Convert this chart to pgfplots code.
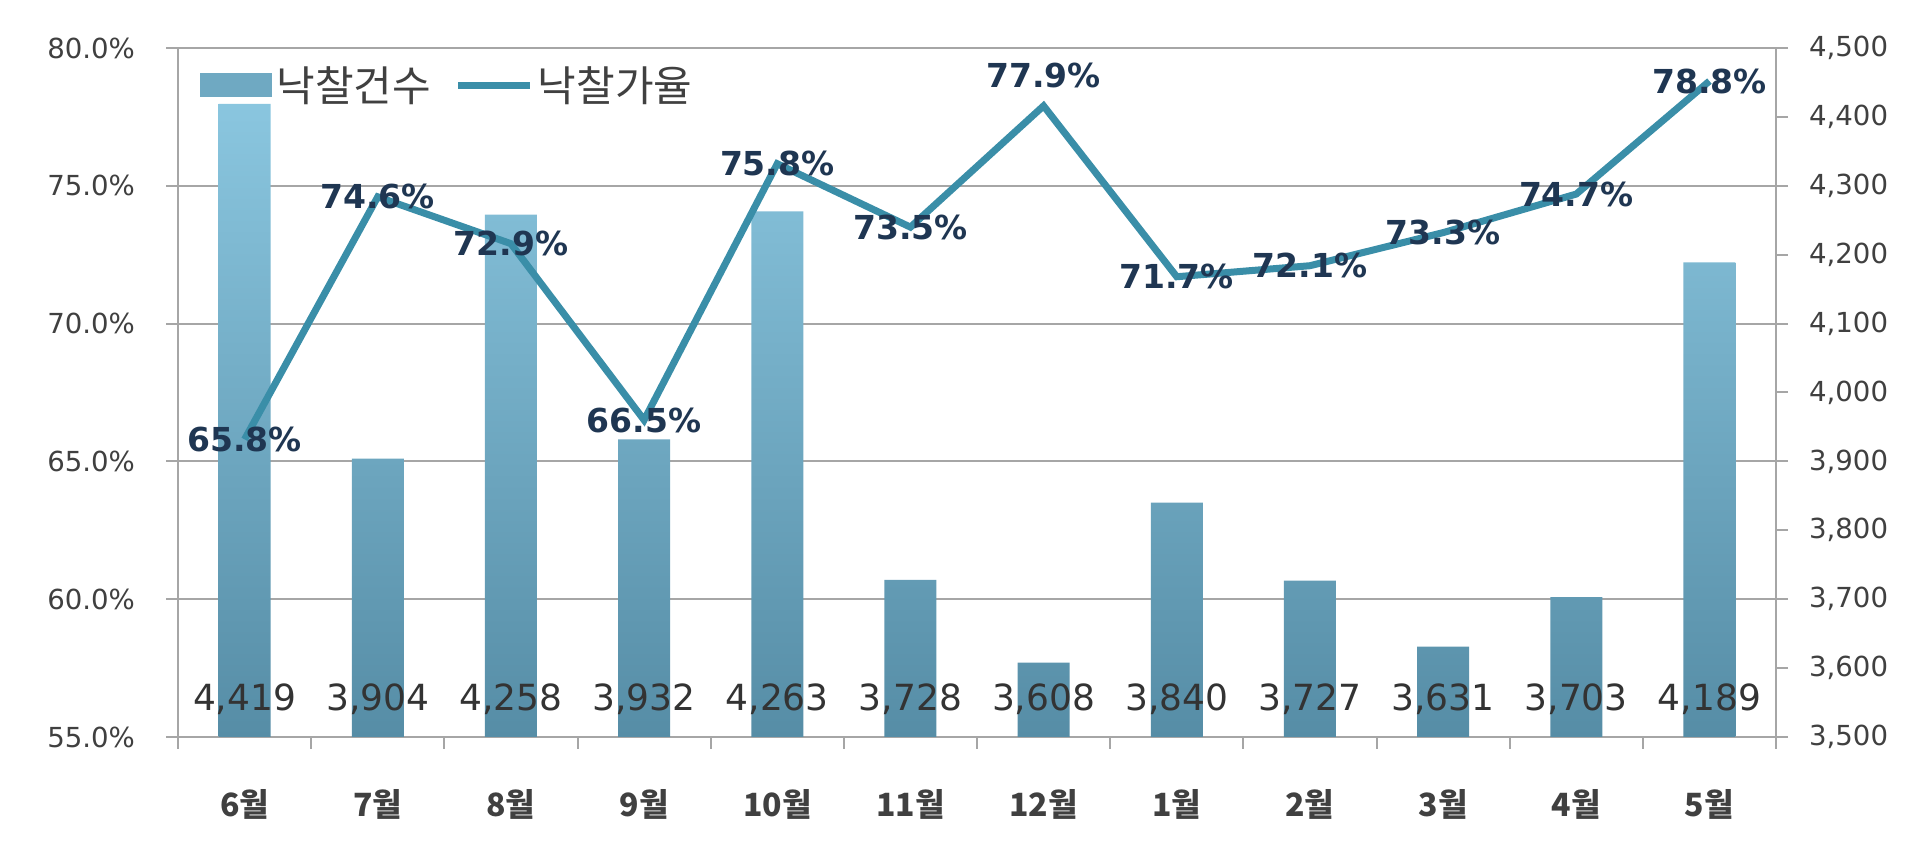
\documentclass[border=0pt]{standalone}
\usepackage{pgfplots}
\pgfplotsset{compat=1.18}
\usepackage{pgfplotstable}
\usetikzlibrary{calc}
\usepackage{fontspec}
\setmainfont{DejaVu Sans}
\newfontfamily\kr{Noto Sans CJK KR}
\definecolor{bartop}{HTML}{8AC6DF}
\definecolor{barbot}{HTML}{568DA6}
\definecolor{legbar}{HTML}{6FA9C2}
\definecolor{linec}{HTML}{3A8EA8}
\definecolor{lblc}{HTML}{1F3652}
\definecolor{gridc}{HTML}{A6A6A6}
\definecolor{tickc}{HTML}{404040}
\pgfplotstableread{
x n r dy
0 4419 65.8 0
1 3904 74.6 0
2 4258 72.9 0
3 3932 66.5 0
4 4263 75.8 0
5 3728 73.5 0
6 3608 77.9 15
7 3840 71.7 0
8 3727 72.1 0
9 3631 73.3 0
10 3703 74.7 0
11 4189 78.8 0
}\data
\begin{document}
\begin{tikzpicture}
\pgfplotsset{
  common/.style={
    width=799pt, height=344.5pt, scale only axis,
    xmin=-0.5, xmax=11.5,
    /pgf/number format/assume math mode=true,
    axis line style={gridc, line width=1pt},
    tick style={gridc, line width=1pt},
    tick align=outside,
    major tick length=6pt,
    ticklabel style={font=\fontsize{13.8}{16}\selectfont, color=tickc},
  }
}
% Axis 1: percentage grid and left axis
\begin{axis}[common, name=main,
  ymin=55, ymax=80, ytick={55,60,...,80},
  axis x line*=bottom, axis y line*=left,
  ymajorgrids, grid style={gridc, line width=1pt},
  xtick={-0.5,0.5,...,11.5}, xticklabels={},
  yticklabel={\pgfmathprintnumber[fixed, fixed zerofill, precision=1]{\tick}\%},
  yticklabel style={xshift=-12pt},
]
\addplot[draw=none] coordinates {(0,60)};
\draw[gridc, line width=1pt] (rel axis cs:0,1) -- (rel axis cs:1,1);
\end{axis}
% Axis 2: counts, bars, right axis
\begin{axis}[common,
  ymin=3500, ymax=4500, ytick={3500,3600,...,4500},
  axis x line=none, axis y line*=right,
  yticklabel style={xshift=7pt, /pgf/number format/1000 sep={,}},
  xtick=\empty,
]
\addplot[ybar, bar width=26pt, draw=none, shade, top color=bartop, bottom color=barbot,
  visualization depends on={rawy \as \rawy},
  nodes near coords={\pgfmathprintnumber[1000 sep={,}, fixed, precision=0]{\rawy}},
  every node near coord/.append style={anchor=center, font=\fontsize{18}{20}\selectfont, text=black!80,
     yshift={(3555-\rawy)*0.3445pt}},
] table[x=x, y=n] {\data};
\end{axis}
% Axis 3: rate line
\begin{axis}[common,
  ymin=55, ymax=80,
  axis x line*=bottom, axis y line=none,
  xtick={0,...,11},
  xticklabels={6월,7월,8월,9월,10월,11월,12월,1월,2월,3월,4월,5월},
  major tick length=0pt,
  x axis line style={draw=none},
  xticklabel style={font=\kr\bfseries\fontsize{16}{18}\selectfont, color=tickc, anchor=center, yshift=-33.5pt},
  legend style={at={(0,1)}, anchor=north west, xshift=8pt, yshift=-5pt, draw=none, fill=none,
    font=\kr\fontsize{21}{23}\selectfont, text=tickc, legend columns=-1,
    /tikz/every even column/.append style={column sep=10pt}},
  legend image code/.code={\draw[#1] (0pt,0pt) -- (36pt,0pt);},
]
\addlegendimage{legend image code/.code={\fill[draw=none, legbar] (0pt,-6pt) rectangle (36pt,6pt);}}
\addlegendentry{낙찰건수}
\addplot[linec, line width=3.5pt, mark=none,
  visualization depends on={\thisrow{dy} \as \dy},
  nodes near coords={\pgfmathprintnumber[fixed, fixed zerofill, precision=1]{\pgfplotspointmeta}\%},
  every node near coord/.append style={anchor=center, font=\bfseries\fontsize{16.5}{18}\selectfont, text=lblc, yshift=\dy pt},
] table[x=x, y=r] {\data};
\addlegendentry{낙찰가율}
\end{axis}
\pgfresetboundingbox
\path[use as bounding box] ($(main.south west)+(-89pt,-61.5pt)$) rectangle ($(main.north east)+(72pt,24pt)$);
\end{tikzpicture}
\end{document}
